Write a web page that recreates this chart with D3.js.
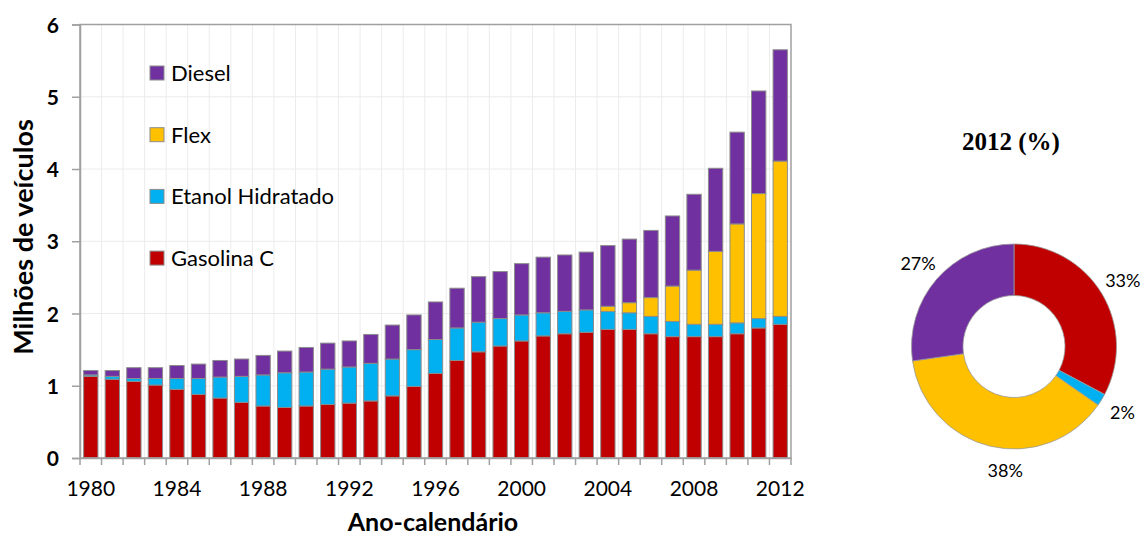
<!DOCTYPE html>
<html>
<head>
<meta charset="utf-8">
<script src="https://cdn.jsdelivr.net/npm/d3@7"></script>
<style>
  body { margin: 0; background: #fff; }
  text { font-family: Lato, "Open Sans", sans-serif; fill: #000; }
</style>
</head>
<body>
<div id="chart"></div>
<script>
// data (millions of vehicles)
var years = d3.range(1980, 2013);
var gasolina = [1.13, 1.09, 1.06, 1.01, 0.95, 0.88, 0.83, 0.77, 0.72, 0.70, 0.72, 0.74, 0.76, 0.79, 0.86, 0.99, 1.17,
                1.35, 1.47, 1.55, 1.62, 1.69, 1.72, 1.74, 1.78, 1.78, 1.72, 1.68, 1.68, 1.68, 1.72, 1.80, 1.85];
var etanol = [0.02, 0.04, 0.04, 0.09, 0.15, 0.22, 0.29, 0.36, 0.43, 0.48, 0.47, 0.49, 0.50, 0.52, 0.51, 0.51, 0.47,
              0.45, 0.41, 0.38, 0.36, 0.32, 0.31, 0.31, 0.25, 0.23, 0.24, 0.21, 0.17, 0.17, 0.15, 0.13, 0.11];
var flex = [0, 0, 0, 0, 0, 0, 0, 0, 0, 0, 0, 0, 0, 0, 0, 0, 0,
            0, 0, 0, 0, 0, 0, 0, 0.07, 0.14, 0.26, 0.49, 0.75, 1.01, 1.37, 1.73, 2.15];
var diesel = [0.06, 0.08, 0.15, 0.15, 0.18, 0.20, 0.23, 0.24, 0.27, 0.30, 0.34, 0.36, 0.36, 0.40, 0.47, 0.48, 0.52,
              0.55, 0.63, 0.65, 0.71, 0.77, 0.78, 0.80, 0.84, 0.88, 0.93, 0.97, 1.05, 1.15, 1.27, 1.42, 1.54];
var seriesKeys = ["Gasolina C", "Etanol Hidratado", "Flex", "Diesel"];
var seriesColors = ["#C00000", "#00B0F0", "#FFC000", "#7030A0"];
var yTicks = [0, 1, 2, 3, 4, 5, 6];
var xLabelYears = [1980, 1984, 1988, 1992, 1996, 2000, 2004, 2008, 2012];

var rows = years.map(function(yr, i) {
    return {year: yr, "Gasolina C": gasolina[i], "Etanol Hidratado": etanol[i], "Flex": flex[i], "Diesel": diesel[i]};
});

var W = 1142, H = 539;
var margin = {top: 24.5, right: 351, bottom: 81, left: 80},
    width = W - margin.left - margin.right,
    height = H - margin.top - margin.bottom;

var svg = d3.select("#chart").append("svg")
    .attr("width", W)
    .attr("height", H);

var g = svg.append("g")
    .attr("transform", "translate(" + margin.left + "," + margin.top + ")");

var x = d3.scaleBand()
    .domain(years)
    .range([0, width])
    .paddingInner(0.335)
    .paddingOuter(0.1675);

var y = d3.scaleLinear()
    .domain([0, 6])
    .range([height, 0]);

var color = d3.scaleOrdinal().domain(seriesKeys).range(seriesColors);

// band boundaries (gridlines + ticks)
var bounds = years.map(function(yr) { return x(yr) - x.step() * x.paddingInner() / 2; });
bounds.push(width);

// gridlines
g.selectAll(".vgrid")
    .data(bounds.slice(1, -1))
    .enter().append("line")
        .attr("x1", function(d) { return d; })
        .attr("x2", function(d) { return d; })
        .attr("y1", 0)
        .attr("y2", height)
        .attr("stroke", "#ececec")
        .attr("stroke-width", 1);

g.selectAll(".hgrid")
    .data(yTicks.slice(1, -1))
    .enter().append("line")
        .attr("x1", 0)
        .attr("x2", width)
        .attr("y1", function(d) { return y(d); })
        .attr("y2", function(d) { return y(d); })
        .attr("stroke", "#ececec")
        .attr("stroke-width", 1);

// stacked bars
var stack = d3.stack().keys(seriesKeys);
var layers = stack(rows);

g.selectAll(".layer")
    .data(layers)
    .enter().append("g")
        .attr("fill", function(d) { return color(d.key); })
    .selectAll("rect")
    .data(function(d) { return d.filter(function(s) { return s[1] - s[0] > 0; }); })
    .enter().append("rect")
        .attr("x", function(d) { return x(d.data.year); })
        .attr("width", x.bandwidth())
        .attr("y", function(d) { return y(d[1]); })
        .attr("height", function(d) { return y(d[0]) - y(d[1]); })
        .attr("stroke", "#8c8c8c")
        .attr("stroke-width", 1);

// plot frame
g.append("rect")
    .attr("x", 0).attr("y", 0)
    .attr("width", width).attr("height", height)
    .attr("fill", "none")
    .attr("stroke", "#a0a0a0")
    .attr("stroke-width", 1.5);

// y axis
var yAxis = g.append("g")
    .call(d3.axisLeft(y).tickValues(yTicks).tickSize(8).tickPadding(13).tickFormat(d3.format("d")));
yAxis.select(".domain").attr("stroke", "#a0a0a0").attr("stroke-width", 1.5);
yAxis.selectAll(".tick line").attr("stroke", "#a0a0a0").attr("stroke-width", 1.5);
yAxis.selectAll("text")
    .style("font-family", "Lato, sans-serif")
    .style("font-size", "21px")
    .style("font-weight", "bold")
    .attr("dy", "0.36em");

// x axis: boundary ticks + labels every 4 years
g.selectAll(".xtick")
    .data(bounds)
    .enter().append("line")
        .attr("x1", function(d) { return d; })
        .attr("x2", function(d) { return d; })
        .attr("y1", height)
        .attr("y2", height + 7)
        .attr("stroke", "#a0a0a0")
        .attr("stroke-width", 1.5);

var xAxis = g.append("g")
    .attr("transform", "translate(0," + height + ")")
    .call(d3.axisBottom(x).tickValues(xLabelYears).tickSize(0).tickPadding(23));
xAxis.select(".domain").attr("stroke", "#a0a0a0").attr("stroke-width", 1.5);
xAxis.selectAll("text")
    .style("font-family", "Lato, sans-serif")
    .style("font-size", "21px");

// axis titles
svg.append("text")
    .attr("transform", "translate(33," + 237 + ") rotate(-90)")
    .attr("text-anchor", "middle")
    .style("font-size", "27px")
    .style("font-weight", "bold")
    .text("Milhões de veículos");

svg.append("text")
    .attr("x", 433)
    .attr("y", 531)
    .attr("text-anchor", "middle")
    .style("font-size", "25px")
    .style("font-weight", "bold")
    .text("Ano-calendário");

// legend (top to bottom: reverse of stack order)
var legendKeys = seriesKeys.slice().reverse();
var legend = svg.append("g").attr("transform", "translate(150,73)");
var li = legend.selectAll(".li")
    .data(legendKeys)
    .enter().append("g")
        .attr("transform", function(d, i) { return "translate(0," + (i * 61.7) + ")"; });
li.append("rect")
    .attr("x", 0).attr("y", -7)
    .attr("width", 14).attr("height", 14)
    .attr("fill", function(d) { return color(d); })
    .attr("stroke", "#8c8c8c")
    .attr("stroke-width", 1);
li.append("text")
    .attr("x", 21)
    .attr("dy", "0.36em")
    .style("font-size", "22px")
    .text(function(d) { return d; });

// donut for 2012
var last = years.length - 1;
var share = [gasolina[last], etanol[last], flex[last], diesel[last]];
var total = d3.sum(share);
var pie = d3.pie().sort(null).startAngle(0).endAngle(2 * Math.PI);
var arcs = pie(share);
var outerR = 102.5, innerR = 51;
var arc = d3.arc().innerRadius(innerR).outerRadius(outerR);
var labelArc = d3.arc().innerRadius(127).outerRadius(127);

var donut = svg.append("g").attr("transform", "translate(1014,346.5)");
donut.selectAll("path")
    .data(arcs)
    .enter().append("path")
        .attr("d", arc)
        .attr("fill", function(d, i) { return seriesColors[i]; })
        .attr("stroke", "#9a9a9a")
        .attr("stroke-width", 0.8);

// outside labels, nudged towards the bottom centre like the original
donut.selectAll(".plabel")
    .data(arcs)
    .enter().append("text")
        .attr("transform", function(d) {
            var c = labelArc.centroid(d);
            if (c[1] > 110) c[0] = c[0] * 0.3;
            return "translate(" + c + ")";
        })
        .attr("text-anchor", "middle")
        .attr("dy", "0.36em")
        .style("font-size", "18px")
        .text(function(d) { return d3.format(".0%")(d.value / total); });

svg.append("text")
    .attr("x", 1011)
    .attr("y", 150)
    .attr("text-anchor", "middle")
    .style("font-family", "'Liberation Serif', 'DejaVu Serif', serif")
    .style("font-size", "25px")
    .style("font-weight", "bold")
    .text("2012 (%)");
</script>
</body>
</html>
